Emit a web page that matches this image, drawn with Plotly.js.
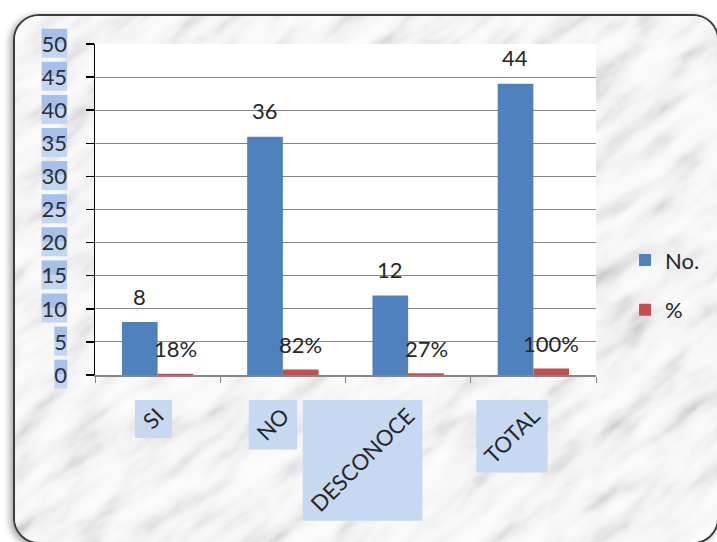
<!DOCTYPE html>
<html>
<head>
<meta charset="utf-8">
<script src="https://cdn.plot.ly/plotly-3.0.1.min.js"></script>
<style>
  html, body { margin: 0; padding: 0; background: #ffffff; }
  #wrap { position: relative; width: 717px; height: 542px; overflow: hidden; }
  #frame {
    position: absolute; left: 13px; top: 14px; width: 702px; height: 526px;
    border: 2px solid #3c3c3c; border-radius: 26px; overflow: hidden;
    box-shadow: -3px 2px 7px rgba(0,0,0,0.35);
    background: #ececec;
  }
  #frame svg { position: absolute; left: 0; top: 0; }
  #chart { position: absolute; left: 0; top: 0; width: 717px; height: 542px; }
</style>
</head>
<body>
<div id="wrap">
  <div id="frame">
    <svg width="702" height="526">
      <defs>
        <!-- mottled grey stone texture with diagonal veins -->
        <filter id="marble" x="0" y="0" width="100%" height="100%">
          <feTurbulence type="fractalNoise" baseFrequency="0.016 0.05" numOctaves="6" seed="11" result="n"/>
          <feColorMatrix type="matrix" in="n"
            values="1 0 0 0 0  1 0 0 0 0  1 0 0 0 0  0 0 0 0 1" result="g"/>
          <feComponentTransfer in="g">
            <feFuncR type="table" tableValues="0.50 0.60 0.72 0.82 0.89 0.93 0.955 0.97 0.98 0.985"/>
            <feFuncG type="table" tableValues="0.50 0.60 0.72 0.82 0.89 0.93 0.955 0.97 0.98 0.985"/>
            <feFuncB type="table" tableValues="0.52 0.62 0.74 0.83 0.90 0.94 0.962 0.975 0.985 0.99"/>
          </feComponentTransfer>
          <feGaussianBlur stdDeviation="0.8"/>
        </filter>
      </defs>
      <g transform="rotate(-38 351 263)">
        <rect x="-350" y="-350" width="1400" height="1230" filter="url(#marble)"/>
      </g>
    </svg>
  </div>
  <div id="chart"></div>
</div>
<script>
// Categories and series
const categories = ['SI', 'NO', 'DESCONOCE', 'TOTAL'];
const counts = [8, 36, 12, 44];
const shares = [0.18, 0.82, 0.27, 1.00];
const yTicks = [0, 5, 10, 15, 20, 25, 30, 35, 40, 45, 50];

const FONT = 'Lato, "Liberation Sans", sans-serif';
const TXT = '#262626';
const BLUE = '#4F81BD';
const RED = '#C0504D';

const traces = [
  { type: 'bar', name: 'No.', x: categories, y: counts, marker: { color: BLUE },
    legendgroup: 'a', hoverinfo: 'none' },
  { type: 'bar', name: '%', x: categories, y: shares, marker: { color: RED },
    legendgroup: 'b', hoverinfo: 'none' }
];

// value labels placed above each bar, derived from the same values
const annotations = [];
categories.forEach((c, i) => {
  annotations.push({ x: c, y: counts[i], xref: 'x', yref: 'y', text: String(counts[i]),
    showarrow: false, xshift: -18, yshift: 26, yanchor: 'middle',
    font: { family: FONT, size: 22, color: TXT } });
  annotations.push({ x: c, y: shares[i], xref: 'x', yref: 'y', text: Math.round(shares[i] * 100) + '%',
    showarrow: false, xshift: 18, yshift: 25, yanchor: 'middle',
    font: { family: FONT, size: 22, color: TXT } });
});

const layout = {
  width: 717, height: 542,
  margin: { l: 95, r: 119, t: 44, b: 167 },
  paper_bgcolor: 'rgba(0,0,0,0)',
  plot_bgcolor: '#ffffff',
  barmode: 'group', bargap: 0.43, bargroupgap: 0,
  font: { family: FONT, size: 22, color: TXT },
  showlegend: true,
  legend: { x: 1.058, xanchor: 'left', y: 0.41, yanchor: 'top',
    bgcolor: 'rgba(0,0,0,0)', tracegroupgap: 18,
    font: { family: FONT, size: 22, color: TXT } },
  xaxis: {
    type: 'category', showline: true, linecolor: '#868686', linewidth: 1.5,
    ticks: 'outside', tickson: 'boundaries', ticklen: 6, tickcolor: '#868686',
    tickangle: -45, ticklabelstandoff: 18,
    tickfont: { family: FONT, size: 22, color: TXT },
    showgrid: false, fixedrange: true
  },
  yaxis: {
    range: [0, 50], tickvals: yTicks, ticktext: yTicks.map(String),
    showline: true, linecolor: '#000000', linewidth: 1.5,
    ticks: 'outside', ticklen: 8, tickcolor: '#000000', tickwidth: 1.5,
    ticklabelstandoff: 14,
    showgrid: true, gridcolor: '#868686', gridwidth: 1, zeroline: false,
    tickfont: { family: FONT, size: 22, color: '#2a2f38' }, fixedrange: true
  },
  annotations: annotations
};

const gd = document.getElementById('chart');
Plotly.newPlot(gd, traces, layout, { displayModeBar: false, staticPlot: true }).then(() => {
  // light blue boxes behind the tick labels
  const sz = gd._fullLayout._size;
  const root = gd.getBoundingClientRect();
  const px = v => (v - root.left - sz.l) / sz.w;
  const py = v => 1 - (v - root.top - sz.t) / sz.h;
  const shapes = [];

  const yt = Array.from(gd.querySelectorAll('g.ytick text'));
  yt.forEach(t => {
    const b = t.getBoundingClientRect();
    const mid = (b.top + b.bottom) / 2;
    shapes.push({ type: 'rect', xref: 'paper', yref: 'paper', layer: 'below',
      x0: px(b.left), x1: px(b.right), y0: py(b.top - 1), y1: py(mid),
      fillcolor: '#a6c1e9', line: { width: 0 } });
    shapes.push({ type: 'rect', xref: 'paper', yref: 'paper', layer: 'below',
      x0: px(b.left), x1: px(b.right), y0: py(mid), y1: py(b.bottom + 1),
      fillcolor: '#c4d5ef', line: { width: 0 } });
  });

  const xt = Array.from(gd.querySelectorAll('g.xtick text'));
  const boxes = xt.map(t => t.getBoundingClientRect());
  const top = Math.min(...boxes.map(b => b.top)) - 2;
  boxes.forEach(b => {
    shapes.push({ type: 'rect', xref: 'paper', yref: 'paper', layer: 'below',
      x0: px(b.left - 2), x1: px(b.right + 3), y0: py(top), y1: py(b.bottom + 4),
      fillcolor: '#c6d9f1', line: { width: 0 } });
  });
  return Plotly.relayout(gd, { shapes: shapes });
});
</script>
</body>
</html>
